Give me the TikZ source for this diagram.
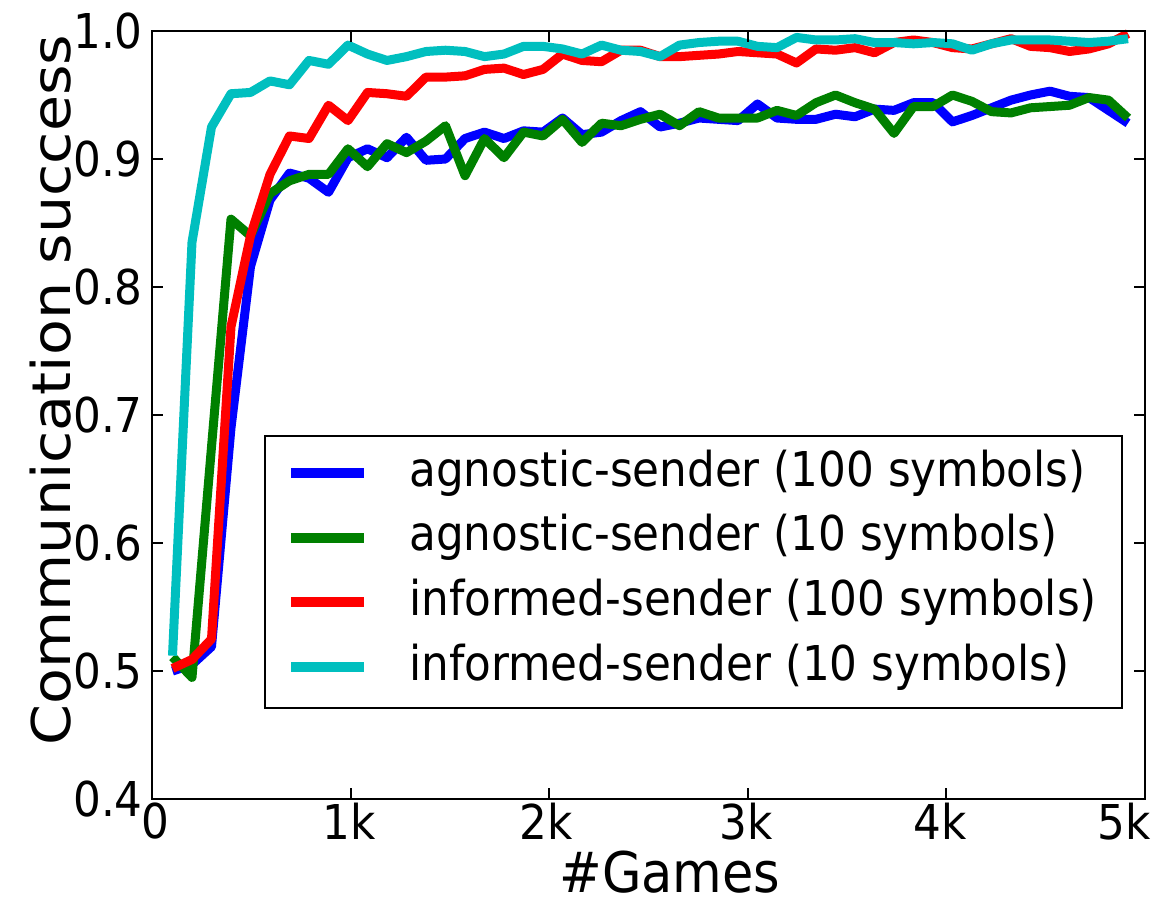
\documentclass[tikz,border=0pt]{standalone}
\usepackage{fontspec}
\setmainfont{DejaVu Sans}[FakeStretch=0.91]
\newfontfamily\ylabelfont{DejaVu Sans}

\begin{document}
\begin{tikzpicture}[x=0.75pt,y=0.75pt,yscale=-1,xscale=1,
  curve/.style={line width=6.75pt, line join=round},
  ticklabel/.style={inner sep=0pt, font=\fontsize{36}{43}\selectfont},
  axislabel/.style={inner sep=0pt, font=\fontsize{44}{52}\selectfont},
  legendtext/.style={anchor=base west, inner sep=0pt, font=\fontsize{36}{43}\selectfont}]
\useasboundingbox (0,0) rectangle (1156,906);

%Curves (x = game index, y = success rate)
\begin{scope}[shift={(153,1311)}, xscale=19.5, yscale=-1280]
%agnostic-sender, 100 symbols
\draw [curve, color={rgb, 255:red, 0; green, 0; blue, 255 }]
  plot coordinates {(1,0.500) (2,0.505) (3,0.519) (4,0.690) (5,0.816) (6,0.868) (7,0.889) (8,0.885) (9,0.874) (10,0.901)
  (11,0.908) (12,0.901) (13,0.917) (14,0.899) (15,0.900) (16,0.916) (17,0.921) (18,0.916) (19,0.922) (20,0.921)
  (21,0.932) (22,0.919) (23,0.921) (24,0.930) (25,0.937) (26,0.925) (27,0.928) (28,0.932) (29,0.931) (30,0.930)
  (31,0.943) (32,0.932) (33,0.931) (34,0.931) (35,0.935) (36,0.933) (37,0.939) (38,0.938) (39,0.944) (40,0.944)
  (41,0.929) (42,0.934) (43,0.940) (44,0.946) (45,0.950) (46,0.953) (47,0.949) (48,0.948) (49,0.938) (50,0.928)};
%agnostic-sender, 10 symbols
\draw [curve, color={rgb, 255:red, 0; green, 128; blue, 0 }]
  plot coordinates {(1,0.511) (2,0.495) (3,0.675) (4,0.853) (5,0.840) (6,0.873) (7,0.883) (8,0.888) (9,0.888) (10,0.908)
  (11,0.894) (12,0.912) (13,0.905) (14,0.914) (15,0.926) (16,0.887) (17,0.916) (18,0.901) (19,0.921) (20,0.918)
  (21,0.931) (22,0.913) (23,0.928) (24,0.926) (25,0.931) (26,0.935) (27,0.926) (28,0.937) (29,0.932) (30,0.932)
  (31,0.932) (32,0.938) (33,0.934) (34,0.944) (35,0.950) (36,0.944) (37,0.939) (38,0.920) (39,0.941) (40,0.941)
  (41,0.950) (42,0.945) (43,0.937) (44,0.936) (45,0.940) (46,0.941) (47,0.942) (48,0.948) (49,0.946) (50,0.932)};
%informed-sender, 100 symbols
\draw [curve, color={rgb, 255:red, 255; green, 0; blue, 0 }]
  plot coordinates {(1,0.502) (2,0.509) (3,0.525) (4,0.769) (5,0.840) (6,0.888) (7,0.918) (8,0.916) (9,0.942) (10,0.930)
  (11,0.952) (12,0.951) (13,0.949) (14,0.964) (15,0.964) (16,0.965) (17,0.970) (18,0.971) (19,0.966) (20,0.970)
  (21,0.982) (22,0.977) (23,0.976) (24,0.985) (25,0.985) (26,0.980) (27,0.980) (28,0.981) (29,0.982) (30,0.984)
  (31,0.983) (32,0.982) (33,0.975) (34,0.986) (35,0.985) (36,0.987) (37,0.983) (38,0.991) (39,0.993) (40,0.991)
  (41,0.987) (42,0.986) (43,0.990) (44,0.994) (45,0.988) (46,0.987) (47,0.984) (48,0.986) (49,0.990) (50,0.998)};
%informed-sender, 10 symbols
\draw [curve, color={rgb, 255:red, 0; green, 191; blue, 191 }]
  plot coordinates {(1,0.512) (2,0.835) (3,0.925) (4,0.951) (5,0.952) (6,0.961) (7,0.958) (8,0.977) (9,0.974) (10,0.989)
  (11,0.982) (12,0.977) (13,0.980) (14,0.984) (15,0.985) (16,0.984) (17,0.980) (18,0.982) (19,0.988) (20,0.988)
  (21,0.986) (22,0.982) (23,0.989) (24,0.985) (25,0.984) (26,0.980) (27,0.989) (28,0.991) (29,0.992) (30,0.992)
  (31,0.988) (32,0.987) (33,0.995) (34,0.993) (35,0.993) (36,0.994) (37,0.991) (38,0.991) (39,0.990) (40,0.991)
  (41,0.990) (42,0.985) (43,0.990) (44,0.993) (45,0.993) (46,0.993) (47,0.992) (48,0.991) (49,0.992) (50,0.994)};
\end{scope}

%Shape: Axes box
\draw [line width=2] (152,31) -- (1145,31) -- (1145,799) -- (152,799) -- cycle ;
%Shape: Ticks (bottom, top, left, right)
\draw [line width=1.5] (350.6,799) -- (350.6,788)(549.2,799) -- (549.2,788)(747.8,799) -- (747.8,788)(946.4,799) -- (946.4,788)
  (350.6,31) -- (350.6,42)(549.2,31) -- (549.2,42)(747.8,31) -- (747.8,42)(946.4,31) -- (946.4,42) ;
\draw [line width=1.5] (152,671) -- (163,671)(152,543) -- (163,543)(152,415) -- (163,415)(152,287) -- (163,287)(152,159) -- (163,159)
  (1145,671) -- (1134,671)(1145,543) -- (1134,543)(1145,415) -- (1134,415)(1145,287) -- (1134,287)(1145,159) -- (1134,159) ;

%Shape: Legend box
\draw [line width=1.5, fill=white] (264.5,436) -- (1122,436) -- (1122,708) -- (264.5,708) -- cycle ;
\draw [curve, line width=7.5pt, color={rgb, 255:red, 0; green, 0; blue, 255 }] (291,473) -- (364,473) ;
\draw [curve, line width=7.5pt, color={rgb, 255:red, 0; green, 128; blue, 0 }] (291,537.7) -- (364,537.7) ;
\draw [curve, line width=7.5pt, color={rgb, 255:red, 255; green, 0; blue, 0 }] (291,602.4) -- (364,602.4) ;
\draw [curve, line width=7.5pt, color={rgb, 255:red, 0; green, 191; blue, 191 }] (291,667) -- (364,667) ;

% Text Node
\draw (409,486) node (legA) [legendtext] {agnostic-sender (100 symbols)};
% Text Node
\draw (409,550.7) node (legB) [legendtext] {agnostic-sender (10 symbols)};
% Text Node
\draw (409,615.4) node (legC) [legendtext] {informed-sender (100 symbols)};
% Text Node
\draw (409,680) node (legD) [legendtext] {informed-sender (10 symbols)};

% Text Node
\draw (143,31) node (ylab10) [anchor=east][ticklabel] {1.0};
% Text Node
\draw (143,159) node (ylab09) [anchor=east][ticklabel] {0.9};
% Text Node
\draw (143,287) node (ylab08) [anchor=east][ticklabel] {0.8};
% Text Node
\draw (143,415) node (ylab07) [anchor=east][ticklabel] {0.7};
% Text Node
\draw (143,543) node (ylab06) [anchor=east][ticklabel] {0.6};
% Text Node
\draw (143,671) node (ylab05) [anchor=east][ticklabel] {0.5};
% Text Node
\draw (143,799) node (ylab04) [anchor=east][ticklabel] {0.4};

% Text Node
\draw (155,803) node (xlab0) [anchor=north][ticklabel] {0};
% Text Node
\draw (349,803) node (xlab1) [anchor=north][ticklabel] {1k};
% Text Node
\draw (546,803) node (xlab2) [anchor=north][ticklabel] {2k};
% Text Node
\draw (746,803) node (xlab3) [anchor=north][ticklabel] {3k};
% Text Node
\draw (940,803) node (xlab4) [anchor=north][ticklabel] {4k};
% Text Node
\draw (1124,803) node (xlab5) [anchor=north][ticklabel] {5k};

% Text Node
\draw (670,892) node (xtitle) [anchor=base][axislabel, font=\fontsize{42}{50}\selectfont] {\#Games};
% Text Node
\draw (70,390) node (ytitle) [anchor=base, rotate=90, yscale=0.91][axislabel] {\ylabelfont Communication success};

\end{tikzpicture}
\end{document}
